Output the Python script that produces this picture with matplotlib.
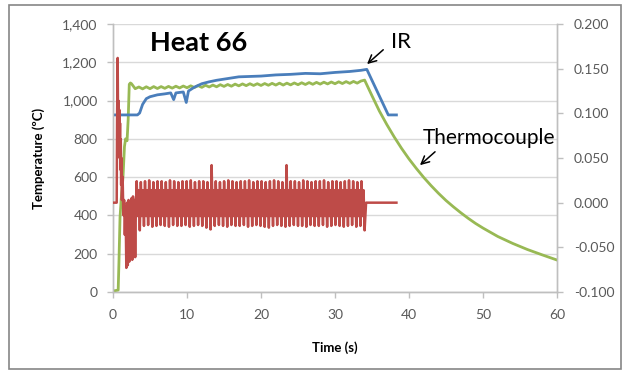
import numpy as np
import matplotlib
matplotlib.use("Agg")
import matplotlib.pyplot as plt
from matplotlib.patches import Rectangle
from matplotlib.ticker import FuncFormatter, MultipleLocator

plt.rcParams["font.family"] = ["Lato", "DejaVu Sans"]

# --- data (left axis: deg C, right axis: red trace) ---
ir_time = [0.0, 3.3, 3.6, 4.0, 4.5, 5.0, 6.0, 7.0, 7.8, 8.2, 8.5, 9.5, 9.9, 10.2,
           11.0, 12.0, 13.0, 14.0, 15.0, 17.0, 20.0, 22.0, 24.0, 26.0, 28.0, 30.0,
           32.0, 33.5, 34.3, 37.2, 38.3]
ir_temp = [925, 925, 935, 980, 1010, 1020, 1030, 1035, 1040, 1005, 1040, 1045, 990, 1050,
           1070, 1088, 1098, 1106, 1112, 1124, 1128, 1134, 1137, 1142, 1140, 1147,
           1152, 1158, 1163, 925, 925]

tc_rise_time = [0.0, 0.7, 0.8, 0.95, 1.1, 1.35, 1.55, 1.7, 1.9, 2.05, 2.2, 2.35]
tc_rise_temp = [5, 10, 150, 390, 480, 600, 760, 800, 790, 900, 1085, 1092]
tc_hold_temp = [1088, 1062, 1071, 1061, 1072, 1062, 1073, 1063, 1073, 1064, 1074, 1065,
                1075, 1066, 1076, 1067, 1077, 1068, 1078, 1069, 1080, 1071, 1081, 1072,
                1083, 1074, 1084, 1075, 1086, 1077, 1087, 1078, 1088, 1079, 1088, 1079,
                1089, 1080, 1090, 1081, 1091, 1081, 1091, 1082, 1092, 1083, 1093, 1084,
                1094, 1085, 1095, 1086, 1096, 1087, 1097, 1088, 1098, 1089, 1099, 1090,
                1100, 1091, 1102, 1107]
tc_cool_time = [35.0, 36.0, 37.0, 38.0, 39.0, 40.0, 41.0, 42.0, 43.0, 44.0, 45.0, 46.0,
                47.0, 48.0, 49.0, 50.0, 52.0, 54.0, 56.0, 58.0, 60.0]
tc_cool_temp = [1025, 945, 875, 810, 750, 695, 645, 598, 555, 515, 478, 445,
                414, 385, 358, 334, 290, 254, 222, 194, 167]

red_start_time = [0.0, 0.5, 0.55, 0.63, 0.7, 0.75, 0.8, 0.85, 0.9, 0.95, 1.0, 1.05, 1.1,
                  1.15, 1.2, 1.3, 1.4, 1.5, 1.6, 1.7, 1.8, 1.9, 2.0, 2.1, 2.2, 2.3, 2.4,
                  2.5, 2.6, 2.7, 2.8, 2.9, 3.0, 3.1]
red_start_val = [0.0, 0.0, 0.093, 0.162, 0.071, 0.114, 0.063, 0.104, 0.05, 0.089, 0.037,
                 0.071, 0.02, 0.05, 0.003, 0.029, -0.014, 0.003, -0.036, -0.004, -0.073,
                 0.0, -0.07, 0.003, -0.066, 0.0, -0.061, 0.005, -0.064, 0.007, -0.057,
                 0.003, -0.061, 0.0]
red_peaks = [0.024, 0.023, 0.024, 0.025, 0.023, 0.024, 0.024, 0.023, 0.025, 0.024, 0.023,
             0.024, 0.024, 0.025, 0.023, 0.024, 0.024, 0.023, 0.042, 0.024, 0.023, 0.024,
             0.025, 0.024, 0.023, 0.024, 0.024, 0.025, 0.023, 0.024, 0.024, 0.023, 0.024,
             0.025, 0.024, 0.023, 0.042, 0.024, 0.024, 0.023, 0.025, 0.024, 0.023, 0.024,
             0.024, 0.025, 0.023, 0.024, 0.024, 0.023, 0.024, 0.025, 0.024, 0.023, 0.024]
red_troughs = [-0.031, -0.026, -0.025, -0.027, -0.026, -0.025, -0.026, -0.027, -0.025,
               -0.026, -0.026, -0.025, -0.027, -0.026, -0.025, -0.026, -0.028, -0.030,
               -0.026, -0.025, -0.026, -0.027, -0.025, -0.026, -0.026, -0.025, -0.027,
               -0.026, -0.025, -0.026, -0.027, -0.028, -0.026, -0.025, -0.026, -0.027,
               -0.026, -0.025, -0.026, -0.026, -0.027, -0.025, -0.026, -0.026, -0.025,
               -0.027, -0.026, -0.025, -0.026, -0.027, -0.026, -0.025, -0.027, -0.026,
               -0.031]
red_band_hi = 0.014
red_band_lo = -0.015
red_osc_span = (3.2, 34.0)
red_end_time = [34.2, 38.3]
red_end_val = [0.0, 0.0]

x_ticks = [0, 10, 20, 30, 40, 50, 60]

BLUE = "#4A7EBB"
GREEN = "#98B954"
RED = "#BE4B48"
TICK_COLOR = "#595959"
AXIS_GRAY = "#BFBFBF"
GRID_GRAY = "#D9D9D9"


def build_red():
    n = len(red_peaks)
    osc = []
    for pk, tr in zip(red_peaks, red_troughs):
        osc += [pk, red_band_lo, red_band_hi, tr]
    osc_t = np.linspace(red_osc_span[0], red_osc_span[1], 4 * n)
    t = np.concatenate([red_start_time, osc_t, red_end_time])
    v = np.concatenate([red_start_val, osc, red_end_val])
    return t, v


def main():
    fig = plt.figure(figsize=(6.27, 3.73), dpi=100)
    ax = fig.add_axes([113 / 627, 1 - 292 / 373, 444 / 627, 268 / 373])
    ax2 = ax.twinx()

    tc_time = np.concatenate([tc_rise_time, np.arange(2.5, 34.01, 0.5), tc_cool_time])
    tc_temp = np.concatenate([tc_rise_temp, tc_hold_temp, tc_cool_temp])
    ax.plot(tc_time, tc_temp, color=GREEN, lw=2.0, zorder=3, solid_joinstyle="round")
    ax.plot(ir_time, ir_temp, color=BLUE, lw=2.0, zorder=4, solid_joinstyle="round")

    rt, rv = build_red()
    ax2.plot(rt, rv, color=RED, lw=1.8, zorder=5)

    ax.set_xlim(0, 60)
    ax.set_ylim(0, 1400)
    ax2.set_ylim(-0.1, 0.2)
    ax.set_xticks(x_ticks)
    ax.yaxis.set_major_locator(MultipleLocator(200))
    ax2.yaxis.set_major_locator(MultipleLocator(0.05))
    ax.yaxis.set_major_formatter(FuncFormatter(lambda v, p: f"{v:,.0f}"))
    ax2.yaxis.set_major_formatter(FuncFormatter(lambda v, p: f"{v:.3f}"))

    ax.grid(axis="y", color=GRID_GRAY, lw=1.0)
    ax.set_axisbelow(True)
    for a in (ax, ax2):
        a.spines["top"].set_visible(False)
        for s in ("left", "right", "bottom"):
            a.spines[s].set_color(AXIS_GRAY)
            a.spines[s].set_linewidth(1.0)
    ax.tick_params(axis="both", colors=AXIS_GRAY, labelcolor=TICK_COLOR,
                   labelsize=10, length=4, width=1.0)
    ax.tick_params(axis="y", pad=7)
    ax.tick_params(axis="x", pad=8)
    ax2.tick_params(axis="y", colors=AXIS_GRAY, labelcolor=TICK_COLOR,
                    labelsize=10, length=4, width=1.0, pad=8)

    ax.set_ylabel("Temperature (ºC)", fontsize=9.5, fontweight="bold")
    ax.yaxis.set_label_coords(-0.153, 0.5)
    ax.set_xlabel("Time (s)", fontsize=9.5, fontweight="bold")
    ax.xaxis.set_label_coords(0.5, -0.183)

    ax.text(11.6, 1301, "Heat 66", fontsize=19.5, fontweight="bold",
            ha="center", va="center", zorder=6)
    ax.text(38.9, 1306, "IR", fontsize=16, ha="center", va="center", zorder=6)
    ax.annotate("", xy=(34.05, 1181), xytext=(36.8, 1275),
                arrowprops=dict(arrowstyle="->", color="black", lw=1.1,
                                mutation_scale=14), zorder=6)
    ax.text(50.8, 805, "Thermocouple", fontsize=15, ha="center", va="center",
            zorder=6)
    ax.annotate("", xy=(41.2, 653), xytext=(43.8, 742),
                arrowprops=dict(arrowstyle="->", color="black", lw=1.1,
                                mutation_scale=14), zorder=6)

    # outer chart border
    fig.patches.append(Rectangle((9 / 627, 1 - 369 / 373), 612 / 627, 364 / 373,
                                 transform=fig.transFigure, fill=False,
                                 edgecolor="#868686", lw=1.2))

    fig.savefig("out.png", dpi=100)
    plt.close(fig)


if __name__ == "__main__":
    main()
